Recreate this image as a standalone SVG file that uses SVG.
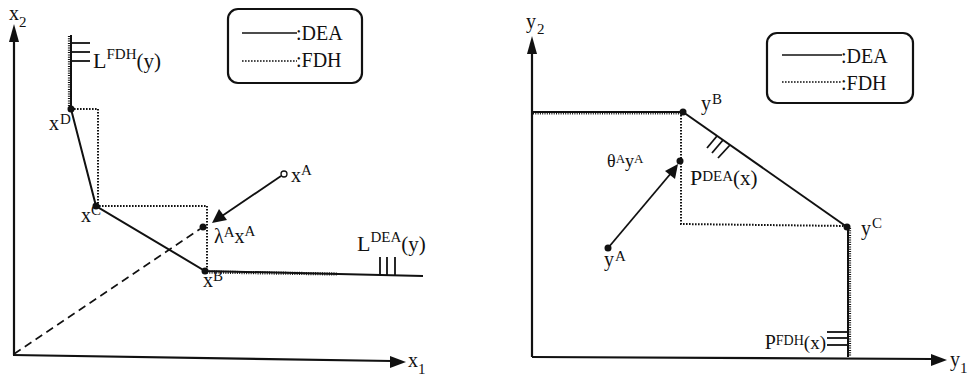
<svg xmlns="http://www.w3.org/2000/svg" width="968" height="379" viewBox="0 0 968 379" font-family="'Liberation Serif', 'Times New Roman', serif">
<style>
text,tspan{font-family:"Liberation Serif","Times New Roman",serif;fill:#111}
.lab{font-size:20px;font-family:"Liberation Serif",serif}
.sup{font-size:15px;font-family:"Liberation Serif",serif}
.ax{stroke:#111;stroke-width:2.2;fill:none}
.dea{stroke:#111;stroke-width:2;fill:none}
.fdh{stroke:#111;stroke-width:2;fill:none;stroke-dasharray:1.6 1.4}
.hatch{stroke:#111;stroke-width:3.2;fill:none;stroke-dasharray:1 1.3}
.tick{stroke:#111;stroke-width:1.8}
.pt{fill:#111}
.box{fill:#fff;stroke:#111;stroke-width:2.2}
.arr{fill:#111}
</style>
<rect width="968" height="379" fill="#fff"/>

<!-- LEFT PANEL -->
<g id="left-axes">
  <line class="ax" x1="14" y1="355" x2="14" y2="40"/>
  <polygon class="arr" points="14,24 9,42 19,42"/>
  <line class="ax" x1="13" y1="355" x2="392" y2="361"/>
  <polygon class="arr" points="406,362 390,356 390,368"/>
  <text class="lab" x="9" y="20">x</text><text class="sup" x="19" y="27">2</text>
  <text class="lab" x="408" y="367">x</text><text class="sup" x="418" y="374">1</text>
</g>

<g id="connectors-left">
  <line class="dea" x1="71" y1="35" x2="71" y2="109"/>
  <line class="hatch" x1="69.5" y1="36" x2="69.5" y2="108"/>
  <line class="tick" x1="71" y1="43" x2="90" y2="43"/>
  <line class="tick" x1="71" y1="52" x2="90" y2="52"/>
  <line class="tick" x1="71" y1="61" x2="90" y2="61"/>
  <polyline class="dea" points="71,109 96,206 205,271 423,276"/>
  <polyline class="fdh" points="71,109 98,109 98,206"/>
  <polyline class="fdh" points="96,206 207,206 207,271"/>
  <line class="hatch" x1="207" y1="272" x2="337" y2="274"/>
  <line class="tick" x1="380" y1="257" x2="380" y2="275"/>
  <line class="tick" x1="387" y1="257" x2="387" y2="275"/>
  <line class="tick" x1="395" y1="257" x2="395" y2="275"/>
  <line x1="14" y1="354" x2="200" y2="229" stroke="#111" stroke-width="1.6" stroke-dasharray="8 5"/>
  <line x1="281" y1="176" x2="222" y2="216" stroke="#111" stroke-width="1.8"/>
  <polygon class="arr" points="212,223 219,209 227,220"/>
</g>

<g id="LFDH-label"><text x="93" y="68" style="font-size:22px">L<tspan dy="-9" style="font-size:15px">FDH</tspan><tspan dy="9" style="font-size:21px">(y)</tspan></text></g>
<g id="xD"><circle class="pt" cx="71" cy="109" r="3.5"/><text class="lab" x="49" y="130">x</text><text class="sup" x="60" y="124">D</text></g>
<g id="xC"><circle class="pt" cx="96" cy="206" r="3.5"/><text class="lab" x="81" y="222">x</text><text class="sup" x="91" y="215">C</text></g>
<g id="xB"><circle class="pt" cx="205" cy="271" r="3.5"/><text class="lab" x="203" y="287">x</text><text class="sup" x="213" y="281">B</text></g>
<g id="lambdaxA"><circle class="pt" cx="203" cy="227" r="3.5"/><text class="lab" x="214" y="243">λ<tspan class="sup" dy="-6">A</tspan><tspan dy="6">x</tspan><tspan class="sup" dy="-7">A</tspan></text></g>
<g id="xA"><circle cx="284" cy="174" r="3" fill="#fff" stroke="#111" stroke-width="1.3"/><text class="lab" x="291" y="182">x</text><text class="sup" x="301" y="175">A</text></g>
<g id="LDEA-label"><text x="357" y="251" style="font-size:22px">L<tspan dy="-9" style="font-size:15px">DEA</tspan><tspan dy="9" style="font-size:21px">(y)</tspan></text></g>

<g id="legend-left">
  <rect class="box" x="228" y="9" width="134" height="74" rx="10"/>
  <line x1="242" y1="33" x2="297" y2="33" stroke="#111" stroke-width="1.6"/>
  <text class="lab" x="296" y="40">:DEA</text>
  <line class="fdh" x1="242" y1="61" x2="297" y2="61" style="stroke-width:1.6"/>
  <text class="lab" x="296" y="67">:FDH</text>
</g>

<!-- RIGHT PANEL -->
<g id="right-axes">
  <line class="ax" x1="532" y1="357" x2="532" y2="52"/>
  <polygon class="arr" points="532,36 527,54 537,54"/>
  <line class="ax" x1="532" y1="357" x2="932" y2="359"/>
  <polygon class="arr" points="947,360 931,354 931,366"/>
  <text class="lab" x="526" y="28">y</text><text class="sup" x="537" y="34">2</text>
  <text class="lab" x="950" y="366">y</text><text class="sup" x="960" y="373">1</text>
</g>

<g id="connectors-right">
  <line class="dea" x1="532" y1="112" x2="683" y2="112"/>
  <line class="hatch" x1="533" y1="113" x2="682" y2="113"/>
  <line class="dea" x1="683" y1="112" x2="847" y2="227"/>
  <polyline class="fdh" points="681,112 681,224 847,226"/>
  <line class="dea" x1="848" y1="227" x2="848" y2="357"/>
  <line class="hatch" x1="849.5" y1="228" x2="849.5" y2="356"/>
  <line class="tick" x1="827" y1="332" x2="848" y2="332"/>
  <line class="tick" x1="827" y1="338" x2="848" y2="338"/>
  <line class="tick" x1="827" y1="345" x2="848" y2="345"/>
  <line class="tick" x1="717" y1="136" x2="707" y2="148"/>
  <line class="tick" x1="723" y1="140" x2="712" y2="153"/>
  <line class="tick" x1="730" y1="145" x2="718" y2="158"/>
  <line x1="608" y1="248" x2="672" y2="172" stroke="#111" stroke-width="1.8"/>
  <polygon class="arr" points="678,164 675,179 665,171"/>
</g>

<g id="yB"><circle class="pt" cx="683" cy="112" r="3.5"/><text class="lab" x="701" y="110">y</text><text class="sup" x="712" y="104">B</text></g>
<g id="yC"><circle class="pt" cx="847" cy="227" r="3.5"/><text class="lab" x="861" y="235">y</text><text class="sup" x="872" y="228">C</text></g>
<g id="thetayA"><circle class="pt" cx="680" cy="161" r="3.5"/><text x="607" y="167" style="font-size:18px">θ<tspan dy="-4" style="font-size:13px">A</tspan><tspan dy="4">y</tspan><tspan dy="-4" style="font-size:13px">A</tspan></text></g>
<g id="PDEA-label"><text x="690" y="185" style="font-size:22px">P<tspan dy="-4" style="font-size:15px">DEA</tspan><tspan dy="4" style="font-size:21px">(x)</tspan></text></g>
<g id="yA"><circle class="pt" cx="608" cy="248" r="3.5"/><text class="lab" x="604" y="266">y</text><text class="sup" x="615" y="261">A</text></g>
<g id="PFDH-label"><text x="826" y="349" text-anchor="end" style="font-size:20px">P<tspan dy="-4" style="font-size:14px">FDH</tspan><tspan dy="4" style="font-size:19px">(x)</tspan></text></g>

<g id="legend-right">
  <rect class="box" x="767" y="33" width="146" height="70" rx="10"/>
  <line x1="782" y1="55" x2="842" y2="55" stroke="#111" stroke-width="1.6"/>
  <text class="lab" x="841" y="63">:DEA</text>
  <line class="fdh" x1="782" y1="82" x2="842" y2="82" style="stroke-width:1.6"/>
  <text class="lab" x="841" y="90">:FDH</text>
</g>
</svg>
